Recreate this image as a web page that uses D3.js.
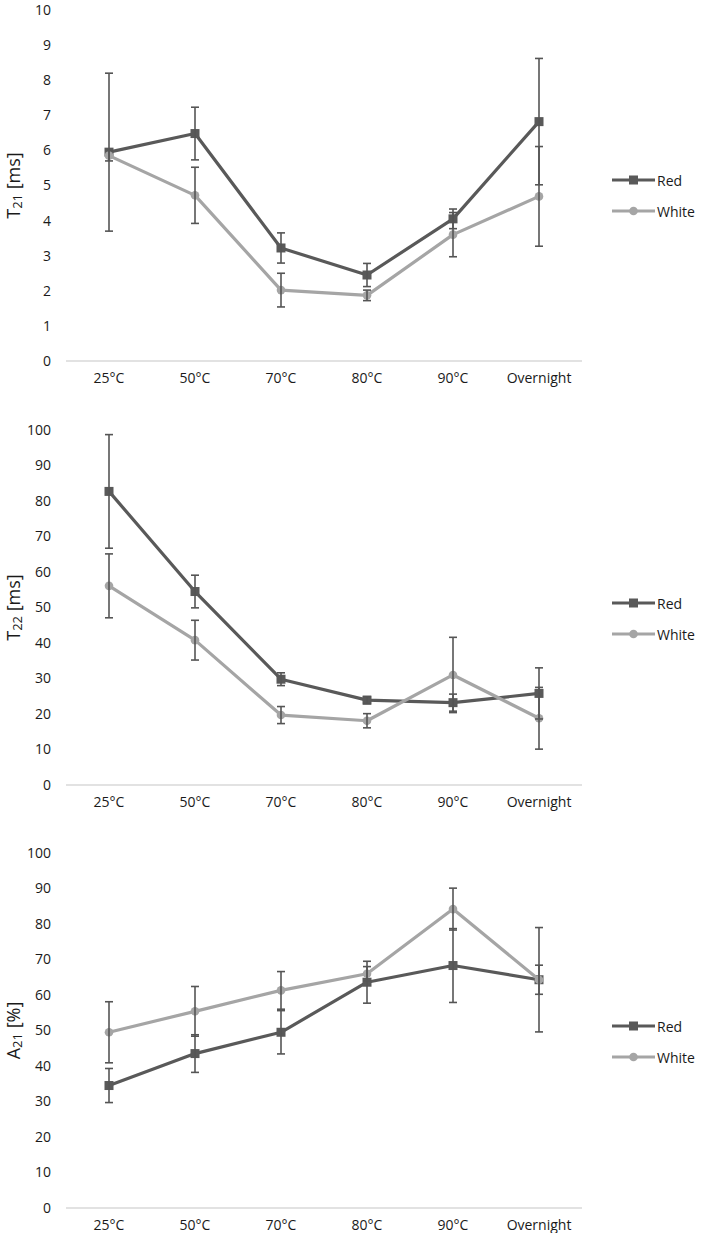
<!DOCTYPE html>
<html>
<head>
<meta charset="utf-8">
<script src="https://cdn.jsdelivr.net/npm/d3@7"></script>
<style>
  body { margin: 0; background: #fff; }
  svg { display: block; font-family: "Open Sans", sans-serif; }
</style>
</head>
<body>
<div id="chart"></div>
<script>
// categories
var categories = ["25°C", "50°C", "70°C", "80°C", "90°C", "Overnight"];
var seriesNames = ["Red", "White"];

// T21 [ms]
var t21Red = [5.95, 6.48, 3.22, 2.45, 4.05, 6.82];
var t21RedErr = [2.25, 0.75, 0.43, 0.33, 0.28, 1.8];
var t21White = [5.85, 4.72, 2.02, 1.87, 3.6, 4.69];
var t21WhiteErr = [0.15, 0.8, 0.48, 0.15, 0.63, 1.42];
var t21Ticks = [0, 1, 2, 3, 4, 5, 6, 7, 8, 9, 10];

// T22 [ms]
var t22Red = [82.7, 54.5, 29.8, 23.9, 23.2, 25.8];
var t22RedErr = [16, 4.6, 1.8, 1, 2.4, 7.2];
var t22White = [56.1, 40.8, 19.7, 18.1, 31.0, 18.8];
var t22WhiteErr = [9, 5.6, 2.4, 2, 10.6, 8.7];
var pctTicks = [0, 10, 20, 30, 40, 50, 60, 70, 80, 90, 100];

// A21 [%]
var a21Red = [34.5, 43.5, 49.5, 63.6, 68.3, 64.3];
var a21RedErr = [4.8, 5.3, 6.1, 5.9, 10.4, 14.7];
var a21White = [49.5, 55.4, 61.3, 66.0, 84.2, 64.3];
var a21WhiteErr = [8.6, 7, 5.3, 2, 5.9, 4.1];

var darkCol = "#595959";
var lightCol = "#a5a5a5";
var errCol = "#555555";
var textCol = "#1a1a1a";

var svg = d3.select("#chart").append("svg")
    .attr("width", 708)
    .attr("height", 1233);

var x = d3.scaleBand().domain(categories).range([66, 582]);

function drawPanel(top, bottom, ymax, ticks, labMain, labSub, labRest, red, redErr, white, whiteErr, legY) {
    var y = d3.scaleLinear().domain([0, ymax]).range([bottom, top]);
    var g = svg.append("g");

    // axis line
    g.append("line")
        .attr("x1", 66).attr("x2", 582)
        .attr("y1", y(0)).attr("y2", y(0))
        .attr("stroke", "#d9d9d9").attr("stroke-width", 1.5);

    var ya = g.append("g")
        .attr("transform", "translate(66,0)")
        .call(d3.axisLeft(y).tickValues(ticks).tickSize(0).tickPadding(15));
    ya.select(".domain").remove();
    ya.selectAll("text").attr("font-size", 14).attr("fill", textCol)
        .attr("font-family", "Open Sans, sans-serif");

    var xa = g.append("g")
        .attr("transform", "translate(0," + y(0) + ")")
        .call(d3.axisBottom(x).tickSize(0).tickPadding(12));
    xa.select(".domain").remove();
    xa.selectAll("text").attr("font-size", 14).attr("fill", textCol)
        .attr("font-family", "Open Sans, sans-serif");

    // y label
    var lab = g.append("text")
        .attr("transform", "translate(13," + ((top + bottom) / 2) + ") rotate(-90)")
        .attr("text-anchor", "middle")
        .attr("dominant-baseline", "central")
        .attr("font-size", 18)
        .attr("fill", textCol);
    lab.append("tspan").text(labMain);
    lab.append("tspan").attr("font-size", 13).attr("dy", 4).text(labSub);
    lab.append("tspan").attr("dy", -4).text(" " + labRest);

    var series = [
        {name: "Red", vals: red, err: redErr, col: darkCol, shape: "square"},
        {name: "White", vals: white, err: whiteErr, col: lightCol, shape: "circle"}
    ];

    var line = d3.line()
        .x(function(d, i) { return x(categories[i]) + x.bandwidth() / 2; })
        .y(function(d) { return y(d); });

    series.forEach(function(s) {
        g.append("path")
            .datum(s.vals)
            .attr("d", line)
            .attr("fill", "none")
            .attr("stroke", s.col)
            .attr("stroke-width", 3.2)
            .attr("stroke-linejoin", "round");

        var pts = g.append("g").selectAll("g")
            .data(s.vals)
            .enter().append("g")
            .attr("transform", function(d, i) {
                return "translate(" + (x(categories[i]) + x.bandwidth() / 2) + "," + y(d) + ")";
            });
        if (s.shape == "square") {
            pts.append("rect").attr("x", -4.5).attr("y", -4.5).attr("width", 9).attr("height", 9)
                .attr("fill", s.col);
        } else {
            pts.append("circle").attr("r", 4.3).attr("fill", s.col);
        }
    });

    // error bars
    series.forEach(function(s) {
        var eb = g.append("g").selectAll("g")
            .data(s.vals)
            .enter().append("g")
            .attr("transform", function(d, i) {
                return "translate(" + (x(categories[i]) + x.bandwidth() / 2) + ",0)";
            });
        eb.append("line")
            .attr("x1", 0).attr("x2", 0)
            .attr("y1", function(d, i) { return y(d + s.err[i]); })
            .attr("y2", function(d, i) { return y(d - s.err[i]); })
            .attr("stroke", errCol).attr("stroke-width", 1.6);
        [1, -1].forEach(function(sg) {
            eb.append("line")
                .attr("x1", -4).attr("x2", 4)
                .attr("y1", function(d, i) { return y(d + sg * s.err[i]); })
                .attr("y2", function(d, i) { return y(d + sg * s.err[i]); })
                .attr("stroke", errCol).attr("stroke-width", 1.6);
        });
    });

    // legend
    series.forEach(function(s, k) {
        var ly = legY + k * 31;
        var lg = g.append("g").attr("transform", "translate(0," + ly + ")");
        lg.append("line").attr("x1", 612).attr("x2", 655).attr("y1", 0).attr("y2", 0)
            .attr("stroke", s.col).attr("stroke-width", 3.2);
        if (s.shape == "square") {
            lg.append("rect").attr("x", 629).attr("y", -4.5).attr("width", 9).attr("height", 9).attr("fill", s.col);
        } else {
            lg.append("circle").attr("cx", 633.5).attr("cy", 0).attr("r", 4.3).attr("fill", s.col);
        }
        lg.append("text").attr("x", 657).attr("y", 0)
            .attr("dominant-baseline", "central")
            .attr("font-size", 14).attr("fill", textCol)
            .text(s.name);
    });
}

drawPanel(10, 361, 10, t21Ticks, "T", "21", "[ms]", t21Red, t21RedErr, t21White, t21WhiteErr, 180);
drawPanel(430, 785, 100, pctTicks, "T", "22", "[ms]", t22Red, t22RedErr, t22White, t22WhiteErr, 603);
drawPanel(853, 1208, 100, pctTicks, "A", "21", "[%]", a21Red, a21RedErr, a21White, a21WhiteErr, 1026);
</script>
</body>
</html>
